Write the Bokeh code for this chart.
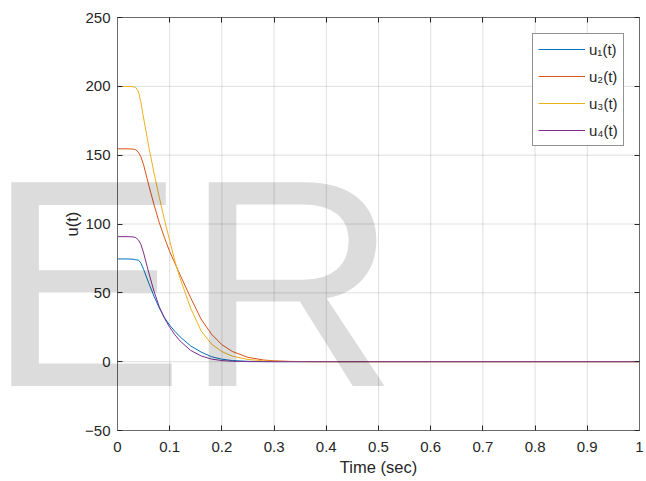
from bokeh.plotting import figure
from bokeh.models import (HTMLLabel, Legend, LegendItem, LinearAxis, FixedTicker,
                          CustomJSTickFormatter, Range1d)
from bokeh.embed import file_html
from bokeh.resources import INLINE

# ---- data ----
t = [0, 0.02, 0.03, 0.035, 0.04, 0.045, 0.05, 0.06, 0.07, 0.08, 0.09, 0.10,
     0.11, 0.12, 0.14, 0.16, 0.18, 0.20, 0.22, 0.25, 0.28, 0.30, 0.33, 0.36,
     0.40, 0.50, 1.00]
u1 = [74.6, 74.6, 74.4, 74.0, 73.8, 71.5, 67.0, 57.0, 47.5, 39.0, 32.0, 26.5,
      22.0, 18.0, 11.5, 7.0, 3.6, 1.8, 0.8, 0.25, 0.08, 0.03, 0, 0, 0, 0, 0]
u2 = [154.6, 154.6, 154.4, 153.9, 152.2, 148.7, 143.0, 128.0, 114.0, 101.0,
      90.0, 80.0, 71.5, 63.0, 46.5, 31.0, 20.0, 12.3, 7.4, 3.1, 1.2, 0.6, 0.2,
      0.05, 0, 0, 0]
u3 = [199.9, 199.9, 199.7, 199.1, 196.5, 188.0, 177.0, 156.0, 137.0, 119.5,
      103.0, 88.0, 73.0, 60.5, 39.0, 22.5, 12.8, 7.3, 4.0, 1.6, 0.6, 0.3, 0.1,
      0, 0, 0, 0]
u4 = [90.8, 90.8, 90.6, 90.1, 88.5, 85.0, 79.0, 64.5, 51.0, 40.0, 31.5, 25.0,
      19.5, 15.0, 8.2, 4.2, 1.9, 0.8, 0.3, 0.06, 0, 0, 0, 0, 0, 0, 0]
series_labels = ["u\u2081(t)", "u\u2082(t)", "u\u2083(t)", "u\u2084(t)"]
colors = ["#0072BD", "#D95319", "#EDB120", "#7E2F8E"]
x_ticks = [i / 10 for i in range(11)]
y_ticks = [-50, 0, 50, 100, 150, 200, 250]
watermark = "ER"

FONT = "Liberation Sans"
AX = "#262626"

# ---- layout: the frame covers the whole canvas, the axes box sits inside it
W, H = 646, 481
BOX_L, BOX_R, BOX_T, BOX_B = 117, 639, 17, 430
x_min, x_max = x_ticks[0], x_ticks[-1]
y_min, y_max = y_ticks[0], y_ticks[-1]
xs = (x_max - x_min) / (BOX_R - BOX_L)
ys = (y_max - y_min) / (BOX_B - BOX_T)
x_range = Range1d(x_min - BOX_L * xs, x_max + (W - BOX_R) * xs)
y_range = Range1d(y_min - (H - BOX_B) * ys, y_max + BOX_T * ys)

p = figure(width=W, height=H, x_range=x_range, y_range=y_range,
           output_backend="svg", toolbar_location=None, min_border=0)
p.outline_line_color = None
p.background_fill_color = "white"
p.border_fill_color = "white"
p.xgrid.visible = False
p.ygrid.visible = False

# grid lines limited to the axes box
nx, ny = len(x_ticks), len(y_ticks)
p.segment(x0=x_ticks, y0=[y_min] * nx, x1=x_ticks, y1=[y_max] * nx,
          line_color=AX, line_alpha=0.15, line_width=1)
p.segment(x0=[x_min] * ny, y0=y_ticks, x1=[x_max] * ny, y1=y_ticks,
          line_color=AX, line_alpha=0.15, line_width=1)

fmt = CustomJSTickFormatter(code="return tick.toFixed(1).replace(/\\.0$/, '');")
blank = CustomJSTickFormatter(code="return '';")

def style_axis(ax, ticks, loc, bounds, show_labels=True):
    ax.fixed_location = loc
    ax.bounds = bounds
    ax.ticker = FixedTicker(ticks=ticks)
    ax.axis_line_color = "#6a6a6a"
    ax.axis_line_width = 1
    ax.major_tick_line_color = AX
    ax.major_tick_in = 5
    ax.major_tick_out = 0
    ax.minor_tick_line_color = None
    ax.major_label_text_font = FONT
    ax.major_label_text_color = AX
    ax.axis_label_text_font = FONT
    ax.axis_label_text_color = AX
    ax.axis_label_text_font_style = "normal"
    ax.major_label_text_font_size = "15px"
    ax.axis_label_text_font_size = "16.5px"
    if not show_labels:
        ax.formatter = blank
        ax.major_label_standoff = 0

xa = p.xaxis[0]
style_axis(xa, x_ticks, y_min, (x_min, x_max))
xa.formatter = fmt
xa.axis_label = "Time (sec)"
xa.major_label_standoff = 11
xa.axis_label_standoff = 3

ya = p.yaxis[0]
style_axis(ya, y_ticks, x_min, (y_min, y_max))
ya.axis_label = "u(t)"
ya.major_label_standoff = 7
ya.axis_label_standoff = 1

top = LinearAxis()
style_axis(top, x_ticks, y_max, (x_min, x_max), show_labels=False)
p.add_layout(top, "above")
right = LinearAxis()
style_axis(right, y_ticks, x_max, (y_min, y_max), show_labels=False)
p.add_layout(right, "right")

renderers = []
for yv, c in zip([u1, u2, u3, u4], colors):
    renderers.append(p.line(t, yv, line_color=c, line_width=1))

legend = Legend(items=[LegendItem(label=l, renderers=[r])
                       for l, r in zip(series_labels, renderers)],
                location=(532, H - 146), margin=0, padding=5, spacing=7,
                glyph_width=47, glyph_height=20, label_height=20,
                label_standoff=4, label_text_font=FONT,
                label_text_font_size="15px", label_text_color=AX,
                border_line_color=AX, border_line_width=1,
                background_fill_color="white", background_fill_alpha=1)
p.add_layout(legend)

# large translucent watermark spanning the axes box and the left margin
p.add_layout(HTMLLabel(x=-13, y=454, x_units="canvas", y_units="canvas",
                       text=watermark, text_font=FONT,
                       text_font_size="296px", text_color="#000000",
                       text_alpha=0.137))

open("out.html", "w").write(file_html(p, INLINE))
